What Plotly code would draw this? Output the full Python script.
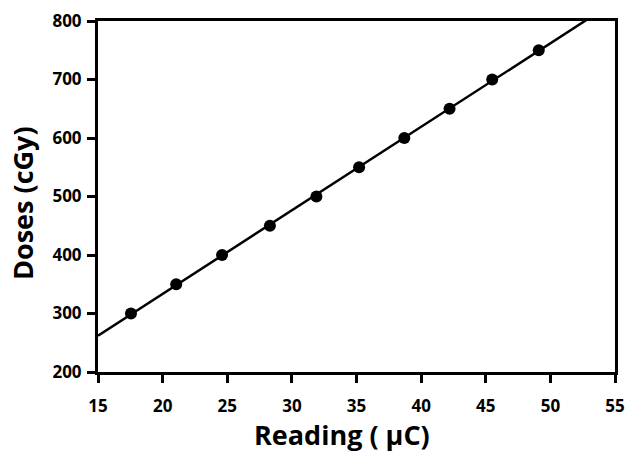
import numpy as np
import plotly.graph_objects as go

reading = [17.55, 21.05, 24.6, 28.3, 31.9, 35.2, 38.7, 42.2, 45.5, 49.1]
doses = [300, 350, 400, 450, 500, 550, 600, 650, 700, 750]
x_ticks = [15, 20, 25, 30, 35, 40, 45, 50, 55]
y_ticks = [200, 300, 400, 500, 600, 700, 800]

slope, intercept = np.polyfit(reading, doses, 1)
fit_x = np.array([15, 56])
fit_y = slope * fit_x + intercept

fig = go.Figure()
fig.add_trace(go.Scatter(x=fit_x, y=fit_y, mode="lines",
                         line=dict(color="black", width=2.5), showlegend=False,
                         cliponaxis=True))
fig.add_trace(go.Scatter(x=reading, y=doses, mode="markers",
                         marker=dict(color="black", size=12), showlegend=False))

tick_fam = "Open Sans, Lato, sans-serif"
title_fam = "Open Sans, Lato, sans-serif"
axis_common = dict(showline=True, linecolor="black", linewidth=3, mirror=True,
                   ticks="outside", ticklen=8, tickwidth=3, tickcolor="black",
                   showgrid=False, zeroline=False, automargin=False,
                   tickfont=dict(family=tick_fam, size=17, color="black", weight="bold"))
fig.update_xaxes(range=[15, 55], tickvals=x_ticks, ticklabelstandoff=9, **axis_common)
fig.update_yaxes(range=[200, 800], tickvals=y_ticks, ticklabelstandoff=2, **axis_common)

fig.add_annotation(text="Reading ( μC)", xref="paper", yref="paper",
                   x=(342 - 98) / (615 - 98), y=(372 - 434) / (372 - 21),
                   showarrow=False, xanchor="center", yanchor="middle",
                   font=dict(family=title_fam, size=27, color="black", weight="bold"))
fig.add_annotation(text="Doses (cGy)", xref="paper", yref="paper",
                   x=(22 - 98) / (615 - 98), y=(372 - 203) / (372 - 21),
                   showarrow=False, xanchor="center", yanchor="middle", textangle=-90,
                   font=dict(family=title_fam, size=27, color="black", weight="bold"))

fig.update_layout(width=627, height=455, margin=dict(l=98, r=12, t=21, b=83),
                  plot_bgcolor="white", paper_bgcolor="white")
fig.write_html("out.html", config={"displayModeBar": False},
               post_script="document.body.style.margin='0';")
